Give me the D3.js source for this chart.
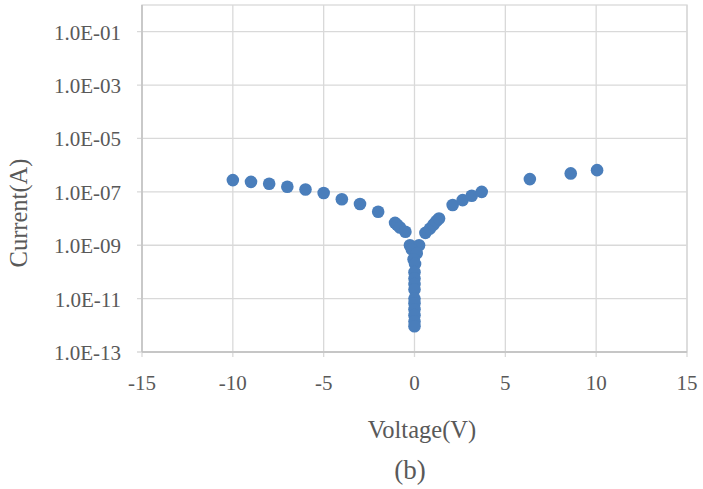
<!DOCTYPE html>
<html><head><meta charset="utf-8">
<script src="https://cdn.jsdelivr.net/npm/d3@7"></script>
<style>body{margin:0;background:#fff}svg{display:block}</style>
</head><body>
<svg id="c" width="703" height="489"></svg>
<script>
const voltage = [-10,-9,-8,-7,-6,-5,-4,-3,-2,-1.07,-0.95,-0.8,-0.5,
  -0.25,0.25,-0.15,0.12,-0.05,0.03,
  0,0,0,0,0,0,0,0,0,0,
  0.6,0.85,1.05,1.2,1.35,
  2.1,2.65,3.15,3.7,6.35,8.6,10.05];
const current = [2.75e-7,2.37e-7,2.0e-7,1.55e-7,1.23e-7,9.1e-8,5.3e-8,3.5e-8,1.8e-8,6.9e-9,5.8e-9,4.6e-9,3.2e-9,
  1.0e-9,1.0e-9,7e-10,5e-10,3e-10,2e-10,
  9.8e-11,5.7e-11,3.5e-11,2.2e-11,1.0e-11,6.7e-12,4.0e-12,2.4e-12,1.4e-12,9.2e-13,
  2.9e-9,4.2e-9,6.0e-9,8.0e-9,1.0e-8,
  3.2e-8,4.9e-8,7.1e-8,1.0e-7,3.0e-7,4.9e-7,6.5e-7];
const xTicks = [-15,-10,-5,0,5,10,15];
const yTicks = [1e-13,1e-11,1e-9,1e-7,1e-5,1e-3,1e-1];
const yTickLabels = ["1.0E-13","1.0E-11","1.0E-09","1.0E-07","1.0E-05","1.0E-03","1.0E-01"];

const svg = d3.select("#c");
const L=142, R=687, T=5, B=352;
const x = d3.scaleLinear().domain([-15,15]).range([L,R]);
const y = d3.scaleLog().domain([1e-13,1]).range([B,T]);
const font = "'Liberation Serif', serif";
const grid = "#d9d9d9", txt = "#595959";

// gridlines
svg.append("g").selectAll("line").data(xTicks).join("line")
  .attr("x1",d=>x(d)).attr("x2",d=>x(d)).attr("y1",T).attr("y2",B+5)
  .attr("stroke",grid).attr("stroke-width",1.3);
svg.append("g").selectAll("line").data(yTicks).join("line")
  .attr("x1",L-5).attr("x2",R).attr("y1",d=>y(d)).attr("y2",d=>y(d))
  .attr("stroke",grid).attr("stroke-width",1.3);
// frame
svg.append("rect").attr("x",L).attr("y",T).attr("width",R-L).attr("height",B-T)
  .attr("fill","none").attr("stroke",grid).attr("stroke-width",1.3);
svg.append("line").attr("x1",L).attr("x2",L).attr("y1",T).attr("y2",B).attr("stroke","#bfbfbf").attr("stroke-width",1.3);
svg.append("line").attr("x1",L).attr("x2",R).attr("y1",B).attr("y2",B).attr("stroke","#bfbfbf").attr("stroke-width",1.3);

// tick labels
svg.append("g").selectAll("text").data(xTicks).join("text")
  .attr("x",d=>x(d)).attr("y",390).attr("text-anchor","middle")
  .attr("font-family",font).attr("font-size",21).attr("fill",txt)
  .text(d=>d);
svg.append("g").selectAll("text").data(yTicks).join("text")
  .attr("x",121).attr("y",d=>y(d)+8).attr("text-anchor","end")
  .attr("font-family",font).attr("font-size",21).attr("fill",txt)
  .text((d,i)=>yTickLabels[i]);

// titles
svg.append("text").attr("x",422).attr("y",438).attr("text-anchor","middle")
  .attr("font-family",font).attr("font-size",24.5).attr("fill",txt).text("Voltage(V)");
svg.append("text").attr("transform","translate(27,213) rotate(-90)").attr("text-anchor","middle")
  .attr("font-family",font).attr("font-size",24.5).attr("fill",txt).text("Current(A)");
svg.append("text").attr("x",410).attr("y",479).attr("text-anchor","middle")
  .attr("font-family",font).attr("font-size",27).attr("fill",txt).text("(b)");

// points
svg.append("g").selectAll("circle").data(voltage).join("circle")
  .attr("cx",(d)=>x(d)).attr("cy",(d,i)=>y(current[i])).attr("r",6.3)
  .attr("fill","#4a7ebb");
</script>
</body></html>
